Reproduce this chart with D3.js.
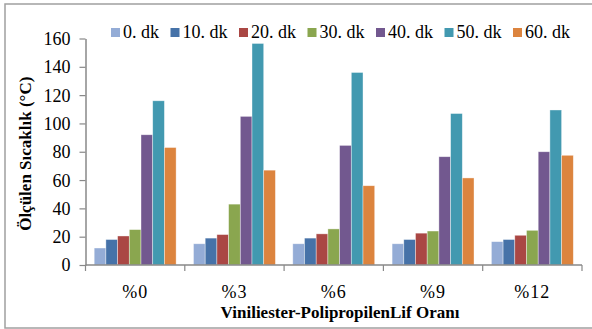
<!DOCTYPE html>
<html>
<head>
<meta charset="utf-8">
<script src="https://cdn.jsdelivr.net/npm/d3@7/dist/d3.min.js"></script>
</head>
<body style="margin:0">
<svg id="chart" width="592" height="329" font-family="Liberation Serif"></svg>
<script>
// Fibre ratio groups on the x axis
const categories = ["%0", "%3", "%6", "%9", "%12"];
// Measurement times (series)
const seriesNames = ["0. dk", "10. dk", "20. dk", "30. dk", "40. dk", "50. dk", "60. dk"];
const seriesColors = ["#94ACD6", "#4672A8", "#AA4744", "#8AA64F", "#72588F", "#4299B0", "#DC843E"];
// Measured temperature (°C) per series, one value per category
const t0  = [12, 15, 15, 15, 16.5];
const t10 = [18, 19, 19, 18, 18];
const t20 = [20.5, 21.5, 22, 22.5, 21];
const t30 = [25, 43, 25.5, 24, 24.5];
const t40 = [92, 105, 84.5, 76.5, 80];
const t50 = [116, 156.5, 136, 107, 109.5];
const t60 = [83, 67, 56, 61.5, 77.5];
const seriesValues = [t0, t10, t20, t30, t40, t50, t60];
// Y axis ticks
const yTicks = [0, 20, 40, 60, 80, 100, 120, 140, 160];

const yTitle = "Ölçülen Sıcaklık  (°C)";
const xTitle = "Viniliester-PolipropilenLif  Oranı";

const FONT = "Liberation Serif";
const svg = d3.select("#chart");
const W = 592;
const plot = { left: 85.5, right: 582, top: 38.5, bottom: 265 };
const axisColor = "#888888";

svg.append("rect").attr("width", W).attr("height", 329).attr("fill", "#ffffff");

// Outer frame
svg.append("rect")
  .attr("x", 5).attr("y", 4)
  .attr("width", W + 10).attr("height", 324)
  .attr("fill", "none").attr("stroke", "#a0a0a0").attr("stroke-width", 1.5);

const x0 = d3.scaleBand().domain(categories)
  .range([plot.left, plot.right]).paddingInner(0.175).paddingOuter(0.0875);
const x1 = d3.scaleBand().domain(seriesNames).range([0, x0.bandwidth()]);
const y = d3.scaleLinear().domain([0, 160]).range([plot.bottom, plot.top]);

// Bars
const groups = svg.append("g").selectAll("g")
  .data(categories).join("g")
  .attr("transform", d => `translate(${x0(d)},0)`);

groups.selectAll("rect")
  .data((c, ci) => seriesNames.map((s, si) => ({ s, si, v: seriesValues[si][ci] })))
  .join("rect")
  .attr("x", d => x1(d.s))
  .attr("y", d => y(d.v))
  .attr("width", x1.bandwidth())
  .attr("height", d => y(0) - y(d.v))
  .attr("fill", d => seriesColors[d.si])
  .attr("stroke", "#ffffff").attr("stroke-opacity", 0.55).attr("stroke-width", 0.7);

// Y axis
const yAxis = svg.append("g")
  .attr("transform", `translate(${plot.left},0)`)
  .call(d3.axisLeft(y).tickValues(yTicks).tickSize(6).tickPadding(9).tickSizeOuter(0));
yAxis.attr("font-family", FONT).attr("font-size", 18);
yAxis.select(".domain").attr("stroke", axisColor).attr("stroke-width", 1.5);
yAxis.selectAll(".tick line").attr("stroke", axisColor).attr("stroke-width", 1.2);
yAxis.selectAll(".tick text").attr("dy", "0.33em");

// X axis: category boundaries get tick marks, labels sit in the middle
const bounds = d3.range(categories.length + 1);
const xb = d3.scaleLinear().domain([0, categories.length]).range([plot.left, plot.right]);
const xAxis = svg.append("g").attr("transform", `translate(0,${plot.bottom})`);
xAxis.append("line")
  .attr("x1", plot.left).attr("x2", plot.right)
  .attr("stroke", axisColor).attr("stroke-width", 1.5);
xAxis.selectAll("line.tk").data(bounds).join("line").attr("class", "tk")
  .attr("x1", d => xb(d)).attr("x2", d => xb(d)).attr("y1", 0).attr("y2", 6)
  .attr("stroke", axisColor).attr("stroke-width", 1.2);
xAxis.selectAll("text").data(categories).join("text")
  .attr("x", d => x0(d) + x0.bandwidth() / 2)
  .attr("y", 33)
  .attr("text-anchor", "middle")
  .attr("font-size", 18)
  .attr("letter-spacing", 1)
  .text(d => d);

// Axis titles
svg.append("text")
  .attr("transform", `translate(31,${(plot.top + plot.bottom) / 2 + 2}) rotate(-90)`)
  .attr("text-anchor", "middle")
  .attr("font-weight", "bold").attr("font-size", 17)
  .text(yTitle);

svg.append("text")
  .attr("x", 340).attr("y", 318)
  .attr("text-anchor", "middle")
  .attr("font-weight", "bold").attr("font-size", 17)
  .text(xTitle);

// Legend
const legend = svg.append("g").attr("transform", "translate(111,0)");
let lx = 0;
seriesNames.forEach((name, i) => {
  const g = legend.append("g").attr("transform", `translate(${lx},0)`);
  g.append("rect").attr("x", 0).attr("y", 28).attr("width", 9).attr("height", 9)
    .attr("fill", seriesColors[i]);
  const t = g.append("text").attr("x", 12).attr("y", 38)
    .attr("font-size", 18).text(name);
  lx += 12 + t.node().getComputedTextLength() + 11.5;
});

svg.selectAll("text").attr("font-family", FONT).attr("fill", "#000");
</script>
</body>
</html>
